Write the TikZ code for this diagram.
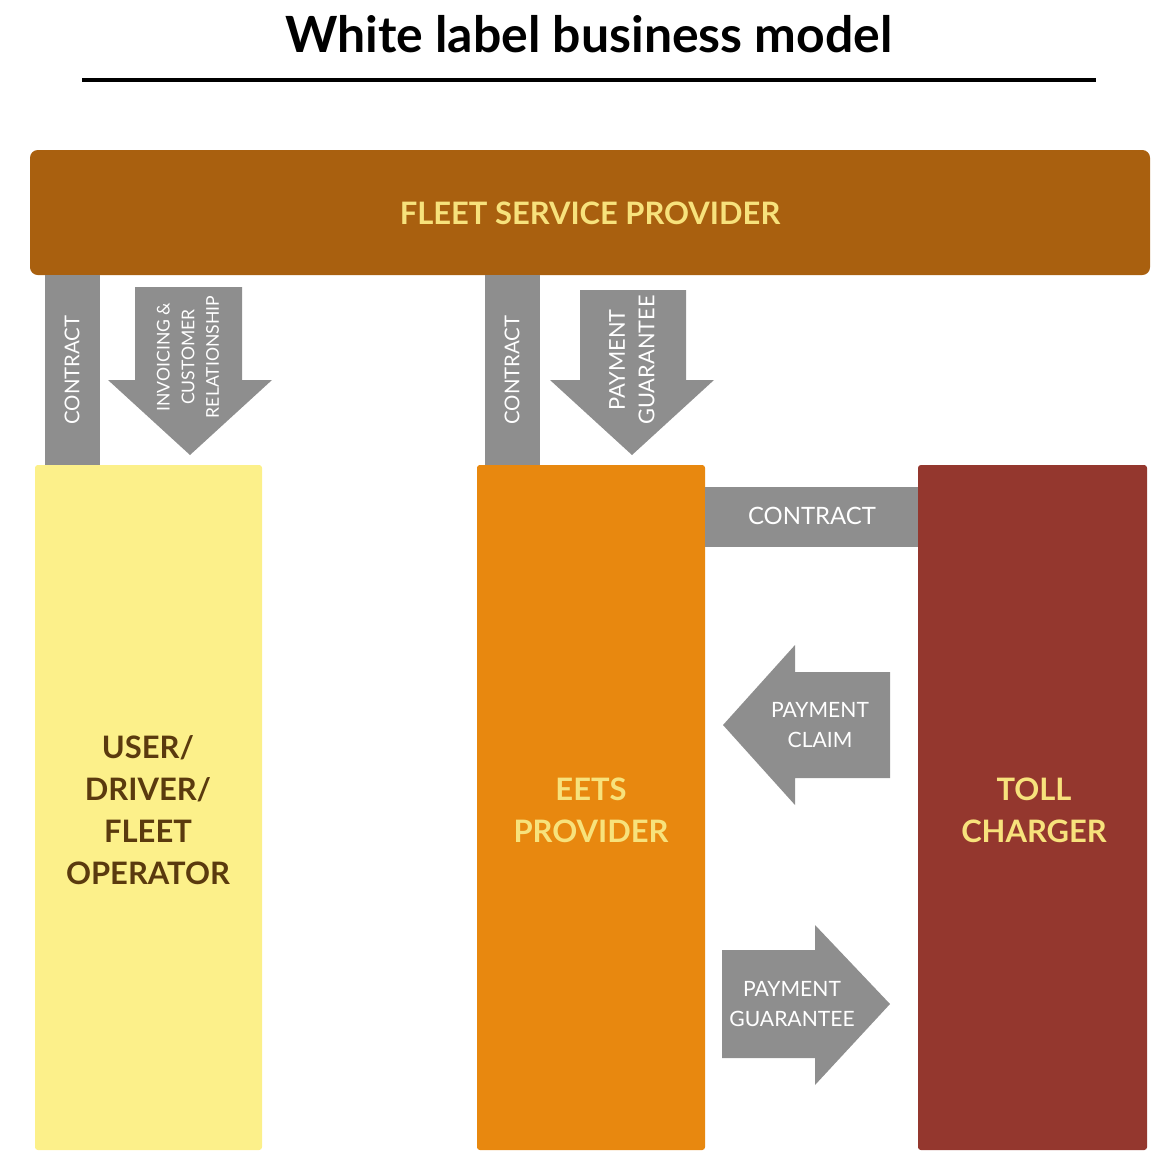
\documentclass[tikz,border=0pt]{standalone}
\usepackage{fontspec}
\setmainfont{Lato}
\usepackage{xcolor}
\usetikzlibrary{positioning}
\definecolor{fspbrown}{HTML}{A9600F}
\definecolor{usryellow}{HTML}{FCF08A}
\definecolor{eetsorange}{HTML}{E8880F}
\definecolor{tollred}{HTML}{94372E}
\definecolor{flowgray}{HTML}{8E8E8E}
\definecolor{lbyellow}{HTML}{F7E27C}
\definecolor{lbbrown}{HTML}{5A3A0E}
\tikzset{
  partytext/.style={align=center, font=\fontsize{22}{30}\selectfont\bfseries},
  flowbar/.style={fill=flowgray},
  flowtext/.style={text=white, align=center, inner sep=0pt}
}
\begin{document}
\begin{tikzpicture}[x=0.025cm, y=-0.025cm]
  \useasboundingbox (0,0) rectangle (1154,1151);

  % title and rule
  \node[font=\fontsize{35.5}{40}\selectfont\bfseries] (title) at (589,34) {White label business model};
  \draw[line width=2.8pt] (82,80) -- (1096,80);

  % top bar
  \fill[fspbrown, rounded corners=5.5pt] (30,150) rectangle (1150,275);
  \node[text=lbyellow, font=\fontsize{22}{26}\selectfont\bfseries] (fsp) at (590,213) {FLEET SERVICE PROVIDER};

  % the three parties
  \fill[usryellow, rounded corners=2pt] (35,465) rectangle (262,1150);
  \fill[eetsorange, rounded corners=2pt] (477,465) rectangle (705,1150);
  \fill[tollred, rounded corners=2pt] (918,465) rectangle (1147,1150);
  \node[partytext, text=lbbrown] (user) at (148,810) {USER/\\DRIVER/\\FLEET\\OPERATOR};
  \node[partytext, text=lbyellow] (eets) at (591,810) {EETS\\PROVIDER};
  \node[partytext, text=lbyellow] (toll) at (1034,810) {TOLL\\CHARGER};

  % contract bars
  \fill[flowbar] (45,275) rectangle (100,465);
  \node[flowtext, rotate=90, font=\fontsize{14.5}{16}\selectfont] (c1) at (72,370) {CONTRACT};
  \fill[flowbar] (485,275) rectangle (540,465);
  \node[flowtext, rotate=90, font=\fontsize{14.5}{16}\selectfont] (c2) at (512,370) {CONTRACT};
  \fill[flowbar] (705,487) rectangle (918,547);
  \node[flowtext, font=\fontsize{17}{19}\selectfont] (c3) at (812,516) {CONTRACT};

  % down arrows
  \fill[flowbar] (135,287) -- (242,287) -- (242,380) -- (272,380) -- (190,455)
    -- (108,380) -- (135,380) -- cycle;
  \node[flowtext, rotate=90, font=\fontsize{12.5}{17.5}\selectfont] (inv) at (188,357) {INVOICING \&\\CUSTOMER\\RELATIONSHIP};
  \fill[flowbar] (580,290) -- (686,290) -- (686,380) -- (714,380) -- (632,455)
    -- (550,380) -- (580,380) -- cycle;
  \node[flowtext, rotate=90, font=\fontsize{15.5}{21}\selectfont] (pg1) at (632,360) {PAYMENT\\GUARANTEE};

  % horizontal arrows
  \fill[flowbar] (890,672) -- (890,778) -- (795,778) -- (795,805) -- (723,725)
    -- (795,645) -- (795,672) -- cycle;
  \node[flowtext, font=\fontsize{15}{22}\selectfont] (claim) at (820,725) {PAYMENT\\CLAIM};
  \fill[flowbar] (722,950) -- (815,950) -- (815,925) -- (890,1004) -- (815,1085)
    -- (815,1058) -- (722,1058) -- cycle;
  \node[flowtext, font=\fontsize{15}{22}\selectfont] (pg2) at (792,1004) {PAYMENT\\GUARANTEE};
\end{tikzpicture}
\end{document}
